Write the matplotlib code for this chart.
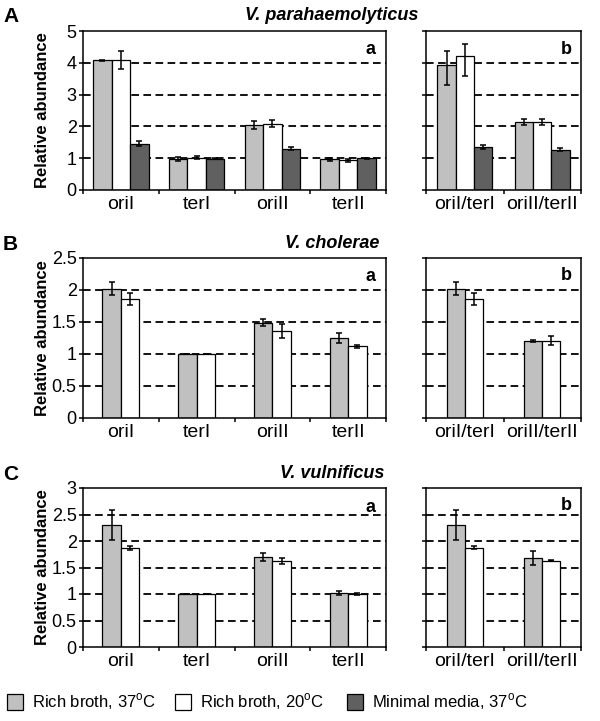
import matplotlib
matplotlib.use("Agg")
import matplotlib.pyplot as plt
from matplotlib.patches import Rectangle
import numpy as np

plt.rcParams['font.family'] = ['Liberation Sans', 'DejaVu Sans']
plt.rcParams['mathtext.fontset'] = 'custom'
plt.rcParams['mathtext.rm'] = 'Liberation Sans'
plt.rcParams['lines.scale_dashes'] = False

# ---------------- data ----------------
loci = ['oriI', 'terI', 'oriII', 'terII']
ratios = ['oriI/terI', 'oriII/terII']
series_names = ['Rich broth, 37$^{\\mathrm{o}}$C', 'Rich broth, 20$^{\\mathrm{o}}$C',
                'Minimal media, 37$^{\\mathrm{o}}$C']
series_colors = ['#c0c0c0', '#ffffff', '#606060']

# Panel A: V. parahaemolyticus
A_rich37 = [4.08, 0.98, 2.05, 0.96]
A_rich37_err = [0.02, 0.06, 0.12, 0.05]
A_rich20 = [4.08, 1.01, 2.09, 0.93]
A_rich20_err = [0.29, 0.05, 0.12, 0.05]
A_min37 = [1.45, 0.99, 1.30, 1.00]
A_min37_err = [0.08, 0.03, 0.05, 0.01]

A_ratio_rich37 = [3.94, 2.13]
A_ratio_rich37_err_lo = [0.65, 0.10]
A_ratio_rich37_err_hi = [0.42, 0.10]
A_ratio_rich20 = [4.21, 2.13]
A_ratio_rich20_err_lo = [0.64, 0.10]
A_ratio_rich20_err_hi = [0.38, 0.10]
A_ratio_min37 = [1.36, 1.27]
A_ratio_min37_err = [0.06, 0.04]

# Panel B: V. cholerae
B_rich37 = [2.02, 1.00, 1.49, 1.25]
B_rich37_err = [0.10, 0.0, 0.06, 0.08]
B_rich20 = [1.86, 1.00, 1.36, 1.12]
B_rich20_err = [0.10, 0.0, 0.11, 0.02]
B_ratio_rich37 = [2.02, 1.20]
B_ratio_rich37_err = [0.10, 0.02]
B_ratio_rich20 = [1.86, 1.21]
B_ratio_rich20_err = [0.10, 0.07]

# Panel C: V. vulnificus
C_rich37 = [2.30, 1.00, 1.70, 1.02]
C_rich37_err = [0.28, 0.0, 0.07, 0.03]
C_rich20 = [1.87, 1.00, 1.62, 1.00]
C_rich20_err = [0.04, 0.0, 0.05, 0.02]
C_ratio_rich37 = [2.30, 1.68]
C_ratio_rich37_err = [0.28, 0.13]
C_ratio_rich20 = [1.87, 1.63]
C_ratio_rich20_err = [0.03, 0.005]

A_yticks = [0, 1, 2, 3, 4, 5]
A_ylabels = ['0', '1', '2', '3', '4', '5']
B_yticks = [0, 0.5, 1, 1.5, 2, 2.5]
B_ylabels = ['0', '0.5', '1', '1.5', '2', '2.5']
C_yticks = [0, 0.5, 1, 1.5, 2, 2.5, 3]
C_ylabels = ['0', '0.5', '1', '1.5', '2', '2.5', '3']

# ---------------- figure ----------------
W, H = 600, 721
fig = plt.figure(figsize=(6.0, 7.21), dpi=100)

def fx(px):
    return px / W

def fy(py):
    return 1 - py / H

def make_axes(l, r, t, b):
    return fig.add_axes([fx(l), fy(b), fx(r) - fx(l), (b - t) / H])

LW = 1.1
YTICKFS = 13
XTICKFS = 14

def style_axes(ax, cats, yticks, ylabels, show_ylabels, grid_vals):
    n = len(cats)
    ax.set_xlim(0, n)
    ax.set_ylim(yticks[0], yticks[-1])
    for s in ax.spines.values():
        s.set_linewidth(LW)
        s.set_color('black')
    ax.set_yticks(yticks)
    if show_ylabels:
        ax.set_yticklabels(ylabels, fontsize=YTICKFS)
    else:
        ax.set_yticklabels([])
    ax.tick_params(axis='y', direction='out', length=3, width=LW, pad=1.5)
    ax.set_xticks(np.arange(n) + 0.5)
    ax.set_xticklabels(cats, fontsize=XTICKFS)
    ax.set_xticks(np.arange(n + 1), minor=True)
    ax.tick_params(axis='x', which='major', length=0, pad=4)
    ax.tick_params(axis='x', which='minor', direction='out', length=3, width=LW)
    for g in grid_vals:
        ax.axhline(g, color='black', lw=1.3, linestyle=(0, (5.5, 3.2)), zorder=0.5)

def draw_bars(ax, vals_list, errs_list, colors, width):
    n = len(vals_list)
    x = np.arange(len(vals_list[0])) + 0.5
    offsets = (np.arange(n) - (n - 1) / 2) * width
    for vals, errs, col, off in zip(vals_list, errs_list, colors, offsets):
        ax.bar(x + off, vals, width=width, color=col, edgecolor='black',
               linewidth=0.9, zorder=2)
        if errs is not None:
            ax.errorbar(x + off, vals, yerr=errs, fmt='none', ecolor='black',
                        elinewidth=1.1, capsize=2.2, capthick=1.1, zorder=3)

LEFT_L, LEFT_R = 83, 386
RIGHT_L, RIGHT_R = 426, 581
w_left = 0.245
w_right = 0.235

panels = [
    # (top, bottom, letter, title, yticks, ylabels)
    (31, 190, 'A', 'V. parahaemolyticus', A_yticks, A_ylabels),
    (258, 418, 'B', 'V. cholerae', B_yticks, B_ylabels),
    (488, 647, 'C', 'V. vulnificus', C_yticks, C_ylabels),
]

left_data = [
    ([A_rich37, A_rich20, A_min37], [A_rich37_err, A_rich20_err, A_min37_err], series_colors),
    ([B_rich37, B_rich20], [B_rich37_err, B_rich20_err], series_colors[:2]),
    ([C_rich37, C_rich20], [C_rich37_err, C_rich20_err], series_colors[:2]),
]
right_data = [
    ([A_ratio_rich37, A_ratio_rich20, A_ratio_min37],
     [[A_ratio_rich37_err_lo, A_ratio_rich37_err_hi],
      [A_ratio_rich20_err_lo, A_ratio_rich20_err_hi],
      A_ratio_min37_err], series_colors),
    ([B_ratio_rich37, B_ratio_rich20], [B_ratio_rich37_err, B_ratio_rich20_err], series_colors[:2]),
    ([C_ratio_rich37, C_ratio_rich20], [C_ratio_rich37_err, C_ratio_rich20_err], series_colors[:2]),
]

for (top, bot, letter, title, yt, yl), ld, rd in zip(panels, left_data, right_data):
    grid_vals = yt[1:-1]
    axl = make_axes(LEFT_L, LEFT_R, top, bot)
    style_axes(axl, loci, yt, yl, True, grid_vals)
    draw_bars(axl, ld[0], ld[1], ld[2], w_left)
    axl.text(1 - 10 / (LEFT_R - LEFT_L), 1 - 19 / (bot - top), 'a', transform=axl.transAxes,
             ha='right', va='center', fontsize=13, fontweight='bold')

    axr = make_axes(RIGHT_L, RIGHT_R, top, bot)
    style_axes(axr, ratios, yt, yl, False, grid_vals)
    draw_bars(axr, rd[0], rd[1], rd[2], w_right)
    axr.text(1 - 9 / (RIGHT_R - RIGHT_L), 1 - 18 / (bot - top), 'b', transform=axr.transAxes,
             ha='right', va='center', fontsize=13, fontweight='bold')

    # y label
    fig.text(fx(43), fy((top + bot) / 2), 'Relative abundance', rotation=90,
             ha='center', va='center', fontsize=12, fontweight='bold')
    # panel letter
    fig.text(fx(3), fy(top - 14), letter, ha='left', va='center',
             fontsize=15, fontweight='bold')
    # title
    fig.text(fx(332), fy(top - 15), title, ha='center', va='center',
             fontsize=13, fontweight='bold', fontstyle='italic')

# legend
leg_y = 702
patch_x = [7, 175, 347]
text_x = [32, 200, 372]
for px, tx, col, name in zip(patch_x, text_x, series_colors, series_names):
    rect = Rectangle((fx(px), fy(leg_y + 8)), 16 / W, 16 / H, transform=fig.transFigure,
                     facecolor=col, edgecolor='black', linewidth=0.9)
    fig.add_artist(rect)
    fig.text(fx(tx), fy(leg_y), name, ha='left', va='center', fontsize=12)

fig.savefig('out.png', dpi=100)
